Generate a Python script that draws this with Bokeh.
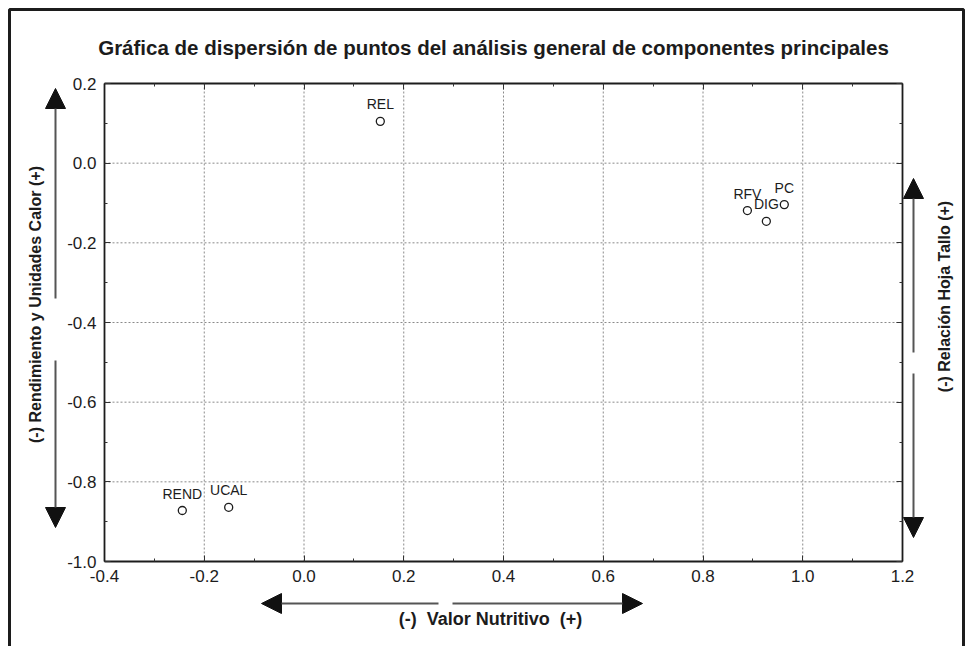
from bokeh.plotting import figure
from bokeh.models import (Range1d, FixedTicker, LinearAxis, Label, Arrow, NormalHead,
                          PolyAnnotation, ColumnDataSource, NumeralTickFormatter)
from bokeh.embed import file_html
from bokeh.resources import INLINE
from bokeh.core.properties import value
import math

# Principal component loadings of each variable
variables = ["REL", "RFV", "DIG", "PC", "REND", "UCAL"]
comp1 = [0.153, 0.889, 0.927, 0.963, -0.244, -0.151]
comp2 = [0.105, -0.119, -0.146, -0.104, -0.872, -0.864]

x_ticks = [-0.4, -0.2, 0.0, 0.2, 0.4, 0.6, 0.8, 1.0, 1.2]
y_ticks = [-1.0, -0.8, -0.6, -0.4, -0.2, 0.0, 0.2]
x_minor = [-0.3, -0.1, 0.1, 0.3, 0.5, 0.7, 0.9, 1.1]
y_minor = [-0.9, -0.7, -0.5, -0.3, -0.1, 0.1]

title_text = "Gráfica de dispersión de puntos del análisis general de componentes principales"
x_title = "(-)\u00a0 Valor Nutritivo\u00a0 (+)"
y_title = "(-) Rendimiento y Unidades Calor (+)"
y2_title = "(-) Relación Hoja Tallo (+)"

W, H = 965, 646
# pixel box of the plotting area inside the canvas
LEFT, RIGHT, TOP, BOTTOM = 104, 902, 83, 561
XMIN, XMAX = x_ticks[0], x_ticks[-1]
YMIN, YMAX = y_ticks[0], y_ticks[-1]
FONT = "Liberation Sans"
INK = "#1c1c1c"


def cx(px):
    """Canvas pixel column -> data x."""
    return XMIN + (px - LEFT) * (XMAX - XMIN) / (RIGHT - LEFT)


def cy(py):
    """Canvas pixel row -> data y."""
    return YMAX - (py - TOP) * (YMAX - YMIN) / (BOTTOM - TOP)


# the frame spans the whole canvas so that the decorations around the box
# (titles, arrows, border) can be drawn with the same scales
p = figure(width=W, height=H, output_backend="svg", toolbar_location=None,
           x_range=Range1d(cx(0), cx(W)), y_range=Range1d(cy(H), cy(0)),
           min_border=0, x_axis_type=None, y_axis_type=None)
p.title.visible = False
p.outline_line_color = None
p.background_fill_color = "white"
p.border_fill_color = "white"
p.xgrid.visible = False
p.ygrid.visible = False

xt = FixedTicker(ticks=x_ticks, minor_ticks=x_minor)
yt = FixedTicker(ticks=y_ticks, minor_ticks=y_minor)

# dotted grid at the major ticks, limited to the box
p.segment(x0=x_ticks, y0=[YMIN] * len(x_ticks), x1=x_ticks, y1=[YMAX] * len(x_ticks),
          line_color="#8a8a8a", line_dash="2 2", line_width=1)
p.segment(x0=[XMIN] * len(y_ticks), y0=y_ticks, x1=[XMAX] * len(y_ticks), y1=y_ticks,
          line_color="#8a8a8a", line_dash="2 2", line_width=1)


def make_axis(ticker, loc, bounds, show_labels):
    ax = LinearAxis(ticker=ticker, fixed_location=loc, bounds=bounds)
    ax.axis_line_color = INK
    ax.axis_line_width = 1.8
    ax.major_tick_in = 6
    ax.major_tick_out = 0
    ax.minor_tick_in = 3
    ax.minor_tick_out = 0
    ax.major_tick_line_color = "#333333"
    ax.minor_tick_line_color = "#333333"
    ax.formatter = NumeralTickFormatter(format="0.0")
    if show_labels:
        ax.major_label_text_font = FONT
        ax.major_label_text_font_size = "17px"
        ax.major_label_text_color = INK
        ax.major_label_standoff = 8
    else:
        ax.major_label_text_font_size = "0px"
        ax.major_label_text_color = None
    return ax


p.add_layout(make_axis(xt, YMIN, (XMIN, XMAX), True), "below")
p.add_layout(make_axis(yt, XMIN, (YMIN, YMAX), True), "left")
p.add_layout(make_axis(xt, YMAX, (XMIN, XMAX), False), "above")
p.add_layout(make_axis(yt, XMAX, (YMIN, YMAX), False), "right")

src = ColumnDataSource(dict(x=comp1, y=comp2, name=variables))
p.scatter("x", "y", source=src, marker="circle", size=8, fill_color="white",
          line_color=INK, line_width=1.3)
p.text("x", "y", text="name", source=src, text_align="center",
       text_baseline="middle", y_offset=-17, text_font=value(FONT),
       text_font_size="14px", text_color=INK)

# outer frame of the figure
p.add_layout(PolyAnnotation(xs=[cx(9), cx(963), cx(963), cx(9)],
                            ys=[cy(9), cy(9), cy(700), cy(700)],
                            fill_color=None, fill_alpha=0, line_color=INK,
                            line_alpha=1.0, line_width=3))

# title and axis titles
p.add_layout(Label(x=cx(493), y=cy(47), text=title_text, text_align="center",
                   text_baseline="middle", text_font=FONT, text_font_style="bold",
                   text_font_size="20.5px", text_color=INK))
p.add_layout(Label(x=cx(490), y=cy(618), text=x_title, text_align="center",
                   text_baseline="middle", text_font=FONT, text_font_style="bold",
                   text_font_size="18px", text_color=INK))
p.add_layout(Label(x=cx(35), y=cy(304), text=y_title, text_align="center",
                   text_baseline="middle", angle=math.pi / 2, text_font=FONT,
                   text_font_style="bold", text_font_size="16px", text_color=INK))
p.add_layout(Label(x=cx(944), y=cy(296), text=y2_title, text_align="center",
                   text_baseline="middle", angle=math.pi / 2, text_font=FONT,
                   text_font_style="bold", text_font_size="16px", text_color=INK))


def arrow(x0, y0, x1, y1):
    head = NormalHead(size=20, fill_color="#111111", line_color="#111111", line_width=1)
    p.add_layout(Arrow(end=head, x_start=cx(x0), y_start=cy(y0),
                       x_end=cx(x1), y_end=cy(y1),
                       line_color="#555555", line_width=2))


# direction arrows: each is split in two halves with a small gap
arrow(55, 298, 55, 88)
arrow(55, 360, 55, 527)
arrow(913, 352, 913, 178)
arrow(913, 373, 913, 537)
arrow(438, 603, 261, 603)
arrow(452, 603, 642, 603)

open("out.html", "w").write(file_html(p, INLINE))
